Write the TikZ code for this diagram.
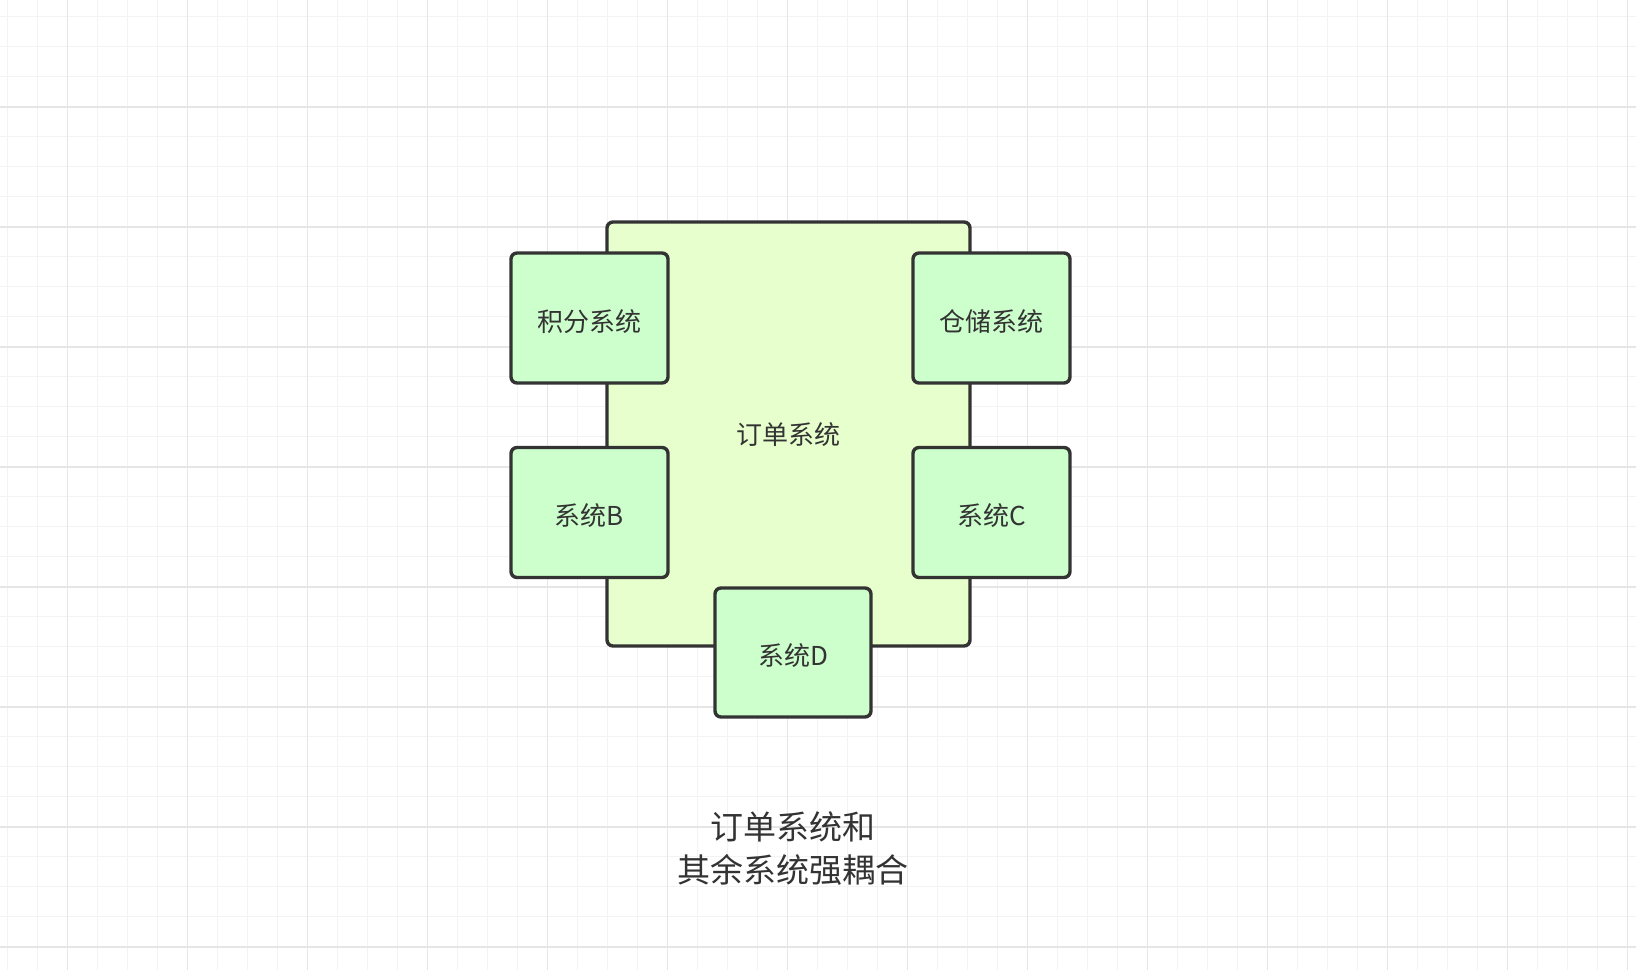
\documentclass[tikz,border=0pt]{standalone}
\usepackage{fontspec}
\setmainfont{Noto Sans CJK SC}
\definecolor{ink}{HTML}{333333}
\definecolor{orderfill}{HTML}{E6FFCC}
\definecolor{sysfill}{HTML}{CCFFCC}
\definecolor{gridminor}{HTML}{F3F3F3}
\definecolor{gridmajor}{HTML}{E6E6E6}

\begin{document}
\begin{tikzpicture}[x=1pt,y=-1pt,
  orderbox/.style={draw=ink,line width=3.4pt,fill=orderfill,rounded corners=6pt,minimum width=363pt,minimum height=424pt,inner sep=0pt},
  sysbox/.style={draw=ink,line width=3.4pt,fill=sysfill,rounded corners=6pt,minimum width=157pt,minimum height=130pt,inner sep=0pt,text height=26pt,text depth=0pt},
  font=\fontsize{26}{30}\selectfont,text=ink]
\useasboundingbox[fill=white] (0,0) rectangle (1636,970);
% background grid
\foreach \x in {7.5,37.5,...,1636}{\draw[gridminor,line width=1.3pt] (\x,0)--(\x,970);}
\foreach \y in {16.7,46.7,...,970}{\draw[gridminor,line width=1.3pt] (0,\y)--(1636,\y);}
\foreach \x in {67.5,187.5,...,1636}{\draw[gridmajor,line width=1.8pt] (\x,0)--(\x,970);}
\foreach \y in {106.7,226.7,...,970}{\draw[gridmajor,line width=1.8pt] (0,\y)--(1636,\y);}
% order system and the systems around it
\node[orderbox] (order) at (788.5,434) {};
\node (ordertext) at (788,435) {订单系统};
\node[sysbox] (points) at (589.5,318) {积分系统};
\node[sysbox] (storage) at (991.5,318) {仓储系统};
\node[sysbox] (sysB) at (589.5,512.5) {系统B};
\node[sysbox] (sysC) at (991.5,512.5) {系统C};
\node[sysbox,minimum width=156pt,minimum height=129pt] (sysD) at (793,652.5) {系统D};
% caption
\node[align=center,font=\fontsize{33}{43}\selectfont] (caption) at (793,849) {订单系统和\\其余系统强耦合};
\end{tikzpicture}
\end{document}
